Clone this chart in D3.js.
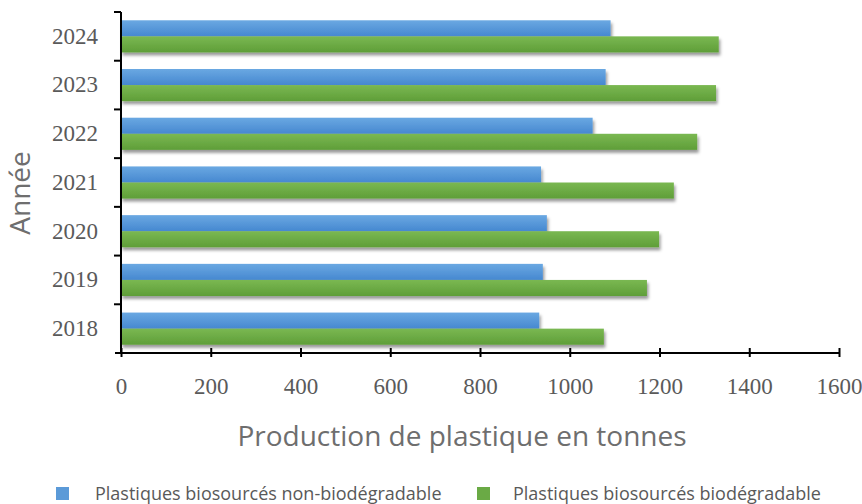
<!DOCTYPE html>
<html><head><meta charset="utf-8">
<script src="https://cdn.jsdelivr.net/npm/d3@7"></script>
<style>body{margin:0;background:#fff}</style>
</head><body>
<svg id="c" width="862" height="504"></svg>
<script>
const years = ["2018","2019","2020","2021","2022","2023","2024"];
const nonBio = [932, 940, 949, 936, 1051, 1080, 1091];
const bio = [1076, 1172, 1199, 1232, 1284, 1326, 1332];
const seriesNames = ["Plastiques biosourcés non-biodégradable", "Plastiques biosourcés biodégradable"];
const xTicks = [0,200,400,600,800,1000,1200,1400,1600];

(function(){
const svg = d3.select("#c");
const mL = 121, mR = 839, mT = 12, mB = 353;
const x = d3.scaleLinear().domain([0,1600]).range([mL,mR]);
const y = d3.scaleBand().domain(years.slice().reverse()).range([mT,mB]).paddingInner(0.34).paddingOuter(0.17);
const sub = d3.scaleBand().domain([0,1]).range([0,y.bandwidth()]);

const defs = svg.append("defs");
function grad(id, c1, c2){
  const g = defs.append("linearGradient").attr("id",id).attr("x1",0).attr("y1",0).attr("x2",0).attr("y2",1);
  g.append("stop").attr("offset","0%").attr("stop-color",c1);
  g.append("stop").attr("offset","100%").attr("stop-color",c2);
}
grad("gb","#6aa8e2","#4688d0");
grad("gg","#7ab852","#5f9e38");
const f = defs.append("filter").attr("id","sh").attr("x","-5%").attr("y","-30%").attr("width","110%").attr("height","180%");
f.append("feDropShadow").attr("dx",1.5).attr("dy",3).attr("stdDeviation",1.8).attr("flood-color","#000").attr("flood-opacity",0.4);

const data = years.map((yr,i)=>({yr, vals:[nonBio[i], bio[i]]}));
const colors = ["url(#gb)","url(#gg)"];
const g = svg.append("g");
data.forEach(d=>{
  d.vals.forEach((v,k)=>{
    g.append("rect").attr("x",x(0)).attr("y",y(d.yr)+sub(k)).attr("width",x(v)-x(0)).attr("height",sub.bandwidth())
      .attr("fill",colors[k]).attr("filter","url(#sh)");
  });
});

const xa = svg.append("g").attr("transform",`translate(0,${mB})`)
  .call(d3.axisBottom(x).tickValues(xTicks).tickFormat(d3.format("d")).tickSize(7).tickSizeOuter(0).tickPadding(18));
xa.select(".domain").attr("d",`M${mL-6},0H${mR}`).attr("stroke","#000").attr("stroke-width",2);
xa.selectAll(".tick line").attr("stroke","#000").attr("stroke-width",2).attr("y1",-5).attr("y2",4);
xa.selectAll("text").attr("font-family","'Liberation Serif', serif").attr("font-size",23).attr("fill","#5a5a5a");

const ya = svg.append("g").attr("transform",`translate(${mL},0)`)
  .call(d3.axisLeft(y).tickSize(0).tickPadding(23));
ya.select(".domain").attr("stroke","#000").attr("stroke-width",2).attr("d",`M0,${mT}V${mB}`);
ya.selectAll("text").attr("font-family","'Liberation Serif', serif").attr("font-size",23).attr("fill","#5a5a5a");
const seps = [mT].concat(years.slice(1).map(yr=>y(yr)+y.bandwidth()+y.step()*y.paddingInner()/2));
ya.selectAll(".sep").data(seps).enter().append("line")
  .attr("x1",-7).attr("x2",0).attr("y1",d=>d).attr("y2",d=>d).attr("stroke","#000").attr("stroke-width",2);

svg.append("text").attr("transform","translate(30,193) rotate(-90)").attr("text-anchor","middle")
  .attr("font-family","'Open Sans', sans-serif").attr("font-size",28).attr("fill","#6e6e6e").text("Année");
svg.append("text").attr("x",462).attr("y",446).attr("text-anchor","middle")
  .attr("font-family","'Open Sans', sans-serif").attr("font-size",28).attr("fill","#6e6e6e").text("Production de plastique en tonnes");

const legX = [56, 477];
const legTX = [95, 513];
const legC = ["#5b9ad8","#6aaa45"];
seriesNames.forEach((n,i)=>{
  svg.append("rect").attr("x",legX[i]).attr("y",487).attr("width",13).attr("height",13).attr("fill",legC[i]);
  svg.append("text").attr("x",legTX[i]).attr("y",500).attr("font-family","'Open Sans', sans-serif")
    .attr("font-size",18).attr("fill","#595959").text(n);
});
})();
</script>
</body></html>
